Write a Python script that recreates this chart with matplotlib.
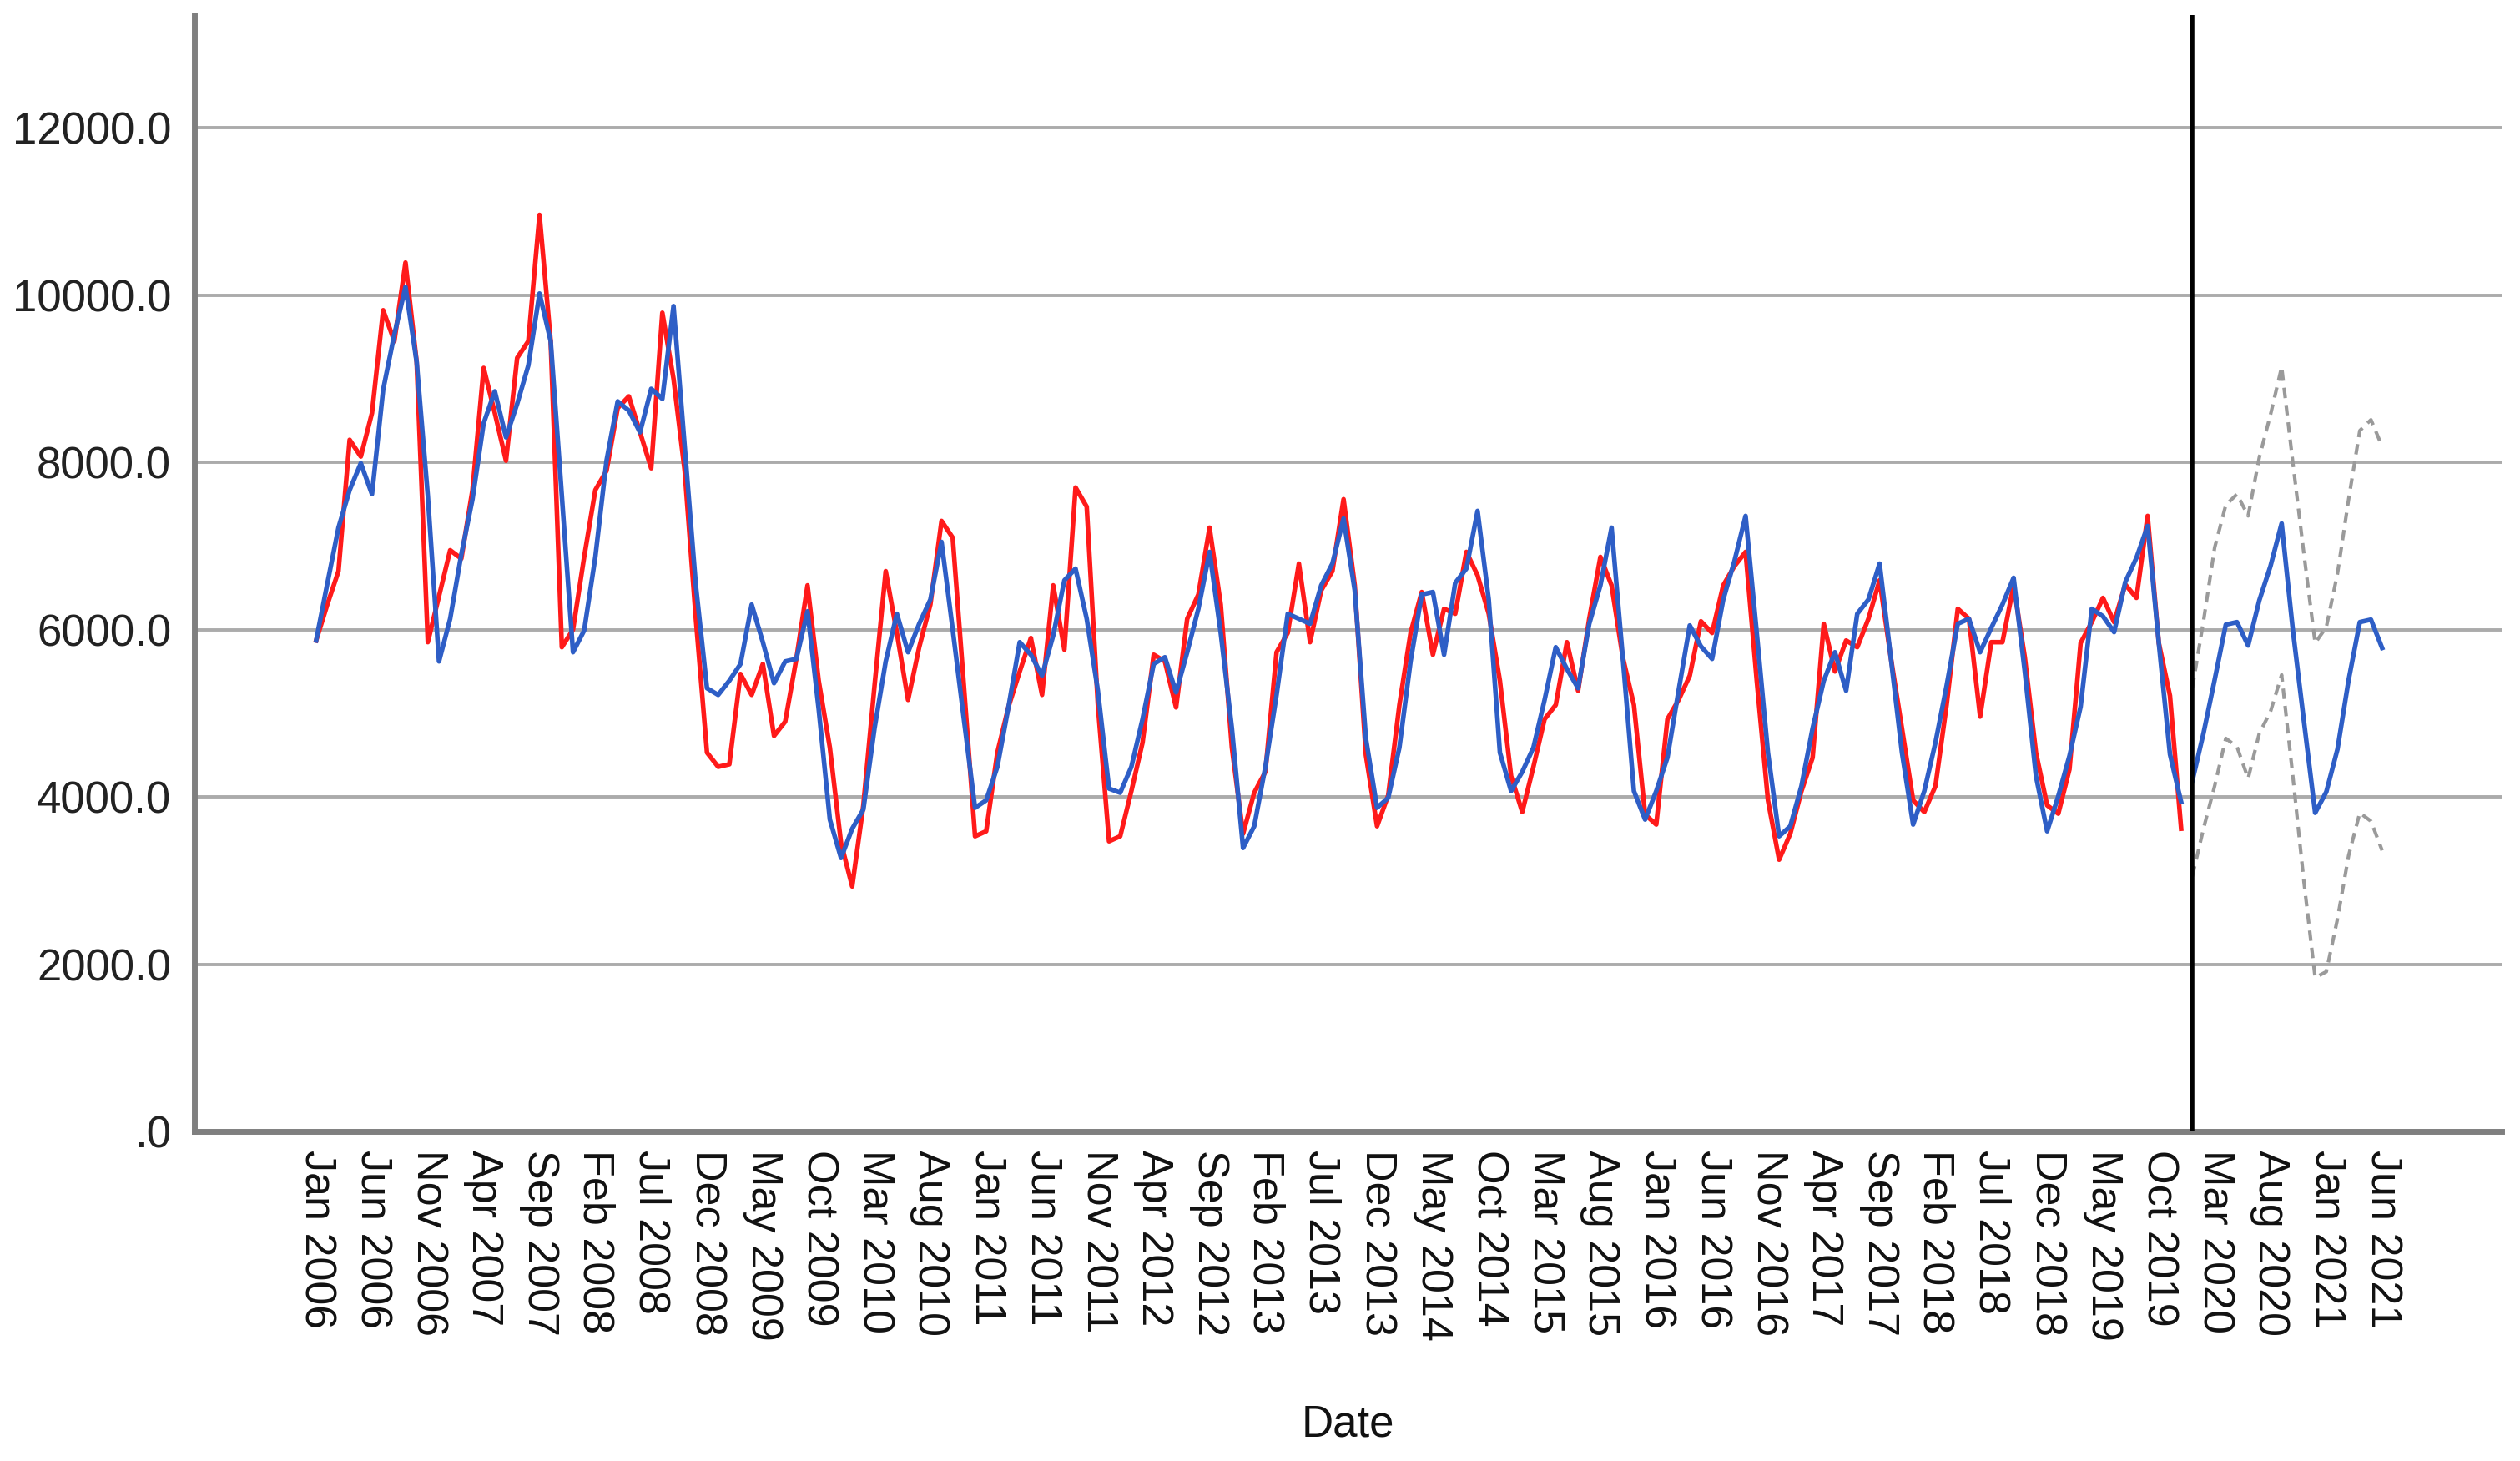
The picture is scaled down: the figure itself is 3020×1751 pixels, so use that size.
"""Monthly series with fitted values and forecast band (Jan 2006 - Jun 2021)."""

import matplotlib

matplotlib.use("Agg")
import matplotlib.pyplot as plt  # noqa: E402

MONTHS = ["Jan", "Feb", "Mar", "Apr", "May", "Jun",
          "Jul", "Aug", "Sep", "Oct", "Nov", "Dec"]

# observed values, Jan 2006 - Dec 2019 (168 months)
observed = [
    5870, 6300, 6700, 8270, 8070, 8590, 9820, 9450, 10390, 9200, 5850, 6400,
    6950, 6850, 7670, 9130, 8590, 8020, 9250, 9450, 10960, 9450, 5790, 6000,
    6870, 7670, 7900, 8650, 8790, 8360, 7930, 9790, 9000, 7900, 6130, 4530,
    4360, 4390, 5470, 5220, 5590, 4730, 4900, 5650, 6530, 5390, 4590, 3450,
    2930, 3900, 5330, 6700, 5960, 5160, 5790, 6300, 7300, 7100, 5330, 3530,
    3590, 4530, 5080, 5500, 5900, 5220, 6530, 5760, 7700, 7470, 5100, 3470,
    3530, 4070, 4650, 5700, 5620, 5070, 6130, 6420, 7220, 6300, 4590, 3560,
    4050, 4300, 5730, 5960, 6790, 5850, 6470, 6700, 7560, 6530, 4500, 3650,
    4020, 5100, 5960, 6450, 5700, 6250, 6190, 6930, 6650, 6190, 5390, 4250,
    3820, 4360, 4930, 5100, 5850, 5270, 6130, 6870, 6530, 5670, 5100, 3790,
    3670, 4930, 5160, 5450, 6100, 5960, 6530, 6760, 6930, 5390, 3960, 3250,
    3560, 4070, 4470, 6070, 5500, 5870, 5790, 6130, 6590, 5670, 4820, 3960,
    3820, 4130, 5100, 6250, 6130, 4960, 5850, 5850, 6530, 5670, 4530, 3900,
    3800, 4330, 5840, 6090, 6380, 6090, 6540, 6380, 7360, 5840, 5210, 3620,
]

# model fit, Jan 2006 - Dec 2019
fitted = [
    5870, 6550, 7220, 7670, 7990, 7620, 8870, 9530, 10100, 9200, 7600, 5620,
    6130, 6900, 7560, 8470, 8850, 8300, 8700, 9160, 10020, 9450, 7600, 5730,
    5990, 6870, 8020, 8730, 8620, 8360, 8880, 8760, 9870, 8190, 6530, 5300,
    5220, 5390, 5590, 6300, 5850, 5360, 5620, 5650, 6220, 5050, 3730, 3270,
    3620, 3850, 4820, 5620, 6190, 5730, 6070, 6360, 7050, 6000, 4930, 3870,
    3960, 4360, 5080, 5850, 5700, 5450, 5930, 6590, 6730, 6130, 5270, 4100,
    4050, 4360, 4930, 5590, 5670, 5250, 5730, 6250, 6930, 5960, 4820, 3390,
    3650, 4360, 5220, 6190, 6130, 6070, 6530, 6790, 7330, 6470, 4700, 3870,
    3990, 4590, 5620, 6420, 6450, 5700, 6560, 6730, 7420, 6360, 4530, 4070,
    4300, 4590, 5160, 5790, 5530, 5300, 6070, 6530, 7220, 5670, 4070, 3730,
    4070, 4470, 5270, 6050, 5800, 5650, 6360, 6820, 7360, 5960, 4530, 3530,
    3650, 4130, 4820, 5390, 5730, 5270, 6190, 6360, 6790, 5670, 4530, 3670,
    4070, 4650, 5330, 6070, 6130, 5730, 6020, 6300, 6620, 5500, 4250, 3590,
    4010, 4490, 5080, 6250, 6160, 5970, 6570, 6860, 7240, 5840, 4510, 3940,
]

# forecast with confidence limits, Jan 2020 - Jun 2021 (18 months)
forecast = [4190, 4760, 5400, 6060, 6090, 5810, 6350, 6760, 7270,
            6000, 4900, 3810, 4060, 4570, 5400, 6090, 6120, 5780]
upper = [5300, 6100, 6980, 7490, 7620, 7360, 8060, 8570, 9140,
         8000, 6900, 5840, 6030, 6670, 7560, 8380, 8510, 8190]
lower = [3050, 3620, 4130, 4700, 4600, 4220, 4760, 5020, 5460,
         4250, 2980, 1840, 1910, 2540, 3300, 3810, 3710, 3360]

Y_TICKS = [0, 2000, 4000, 6000, 8000, 10000, 12000]
Y_LABELS = [".0", "2000.0", "4000.0", "6000.0", "8000.0", "10000.0", "12000.0"]
LABEL_STEP = 5

RED = "#ff1a1a"
BLUE = "#2e5ec6"


def main() -> None:
    plt.rcParams["font.family"] = ["Liberation Sans", "DejaVu Sans"]

    n_obs = len(observed)
    n_all = n_obs + len(forecast)
    x_obs = list(range(n_obs))
    x_fc = list(range(n_obs, n_all))

    fig = plt.figure(figsize=(30.2, 17.51), dpi=100)
    ax = fig.add_axes([233 / 3020, 1 - 1356 / 1751,
                       (2998 - 233) / 3020, (1356 - 18) / 1751])

    ax.set_ylim(0, 13350)
    ax.set_xlim(-10.9, 195.7)

    for y in Y_TICKS[1:]:
        ax.axhline(y, color="#ababab", linewidth=2.8, zorder=1)

    ax.plot(x_obs, observed, color=RED, linewidth=4.0, zorder=3)
    ax.plot(x_obs, fitted, color=BLUE, linewidth=4.0, zorder=4)
    ax.plot(x_fc, forecast, color=BLUE, linewidth=4.0, zorder=4)
    ax.plot(x_fc, upper, color="#9a9a9a", linewidth=3.0,
            linestyle=(0, (3, 2)), zorder=3)
    ax.plot(x_fc, lower, color="#9a9a9a", linewidth=3.0,
            linestyle=(0, (3, 2)), zorder=3)
    ax.axvline(n_obs, color="black", linewidth=4.0, zorder=5)

    ax.set_yticks(Y_TICKS)
    ax.set_yticklabels(Y_LABELS)

    tick_pos = list(range(0, n_all, LABEL_STEP))
    tick_lab = [f"{MONTHS[m % 12]} {2006 + m // 12}" for m in tick_pos]
    ax.set_xticks(tick_pos)
    ax.set_xticklabels(tick_lab, rotation=270, va="top", ha="center")

    ax.tick_params(axis="y", length=0, pad=20, labelsize=38, labelcolor="#222222")
    ax.tick_params(axis="x", length=0, pad=16, labelsize=37.5, labelcolor="#111111")

    for side in ("top", "right"):
        ax.spines[side].set_visible(False)
    for side in ("left", "bottom"):
        ax.spines[side].set_color("#7f7f7f")
        ax.spines[side].set_linewidth(5.0)

    fig.text(1615 / 3020, 1 - 1707 / 1751, "Date", ha="center", va="center",
             fontsize=38, color="#111111")

    fig.savefig("out.png", dpi=100, facecolor="white")
    plt.close(fig)


if __name__ == "__main__":
    main()
